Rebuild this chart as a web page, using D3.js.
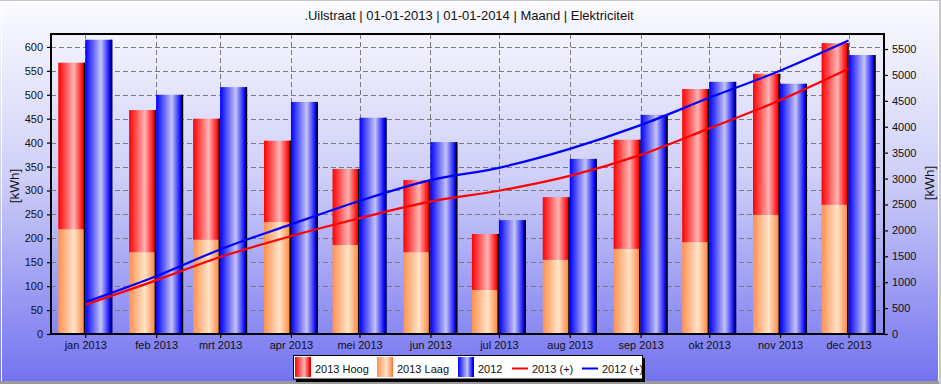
<!DOCTYPE html>
<html>
<head>
<meta charset="utf-8">
<script src="https://cdn.jsdelivr.net/npm/d3@7"></script>
<style>
  html, body { margin: 0; padding: 0; background: #fff; }
  svg { display: block; }
  text { font-family: "Liberation Sans", Arial, sans-serif; fill: #111; }
</style>
</head>
<body>
<svg id="chart" width="941" height="384"></svg>
<script>
// ---------- data ----------
const months = ["2013-01-01","2013-02-01","2013-03-01","2013-04-01","2013-05-01","2013-06-01",
                "2013-07-01","2013-08-01","2013-09-01","2013-10-01","2013-11-01","2013-12-01"];
const tickLabels = ["jan 2013","feb 2013","mrt 2013","apr 2013","mei 2013","jun 2013",
                    "jul 2013","aug 2013","sep 2013","okt 2013","nov 2013","dec 2013"];
const laag2013 = [219, 171, 197, 234, 186, 171, 92, 155, 178, 192, 249, 270];
const hoog2013 = [348, 297, 253, 170, 159, 151, 117, 131, 228, 320, 295, 338];
const total2012 = [615, 500, 516, 485, 452, 401, 238, 366, 458, 527, 523, 583];
const cum2013 = [567, 1035, 1485, 1889, 2234, 2556, 2765, 3051, 3457, 3969, 4513, 5121];
const cum2012 = [615, 1115, 1631, 2116, 2568, 2969, 3207, 3573, 4031, 4558, 5081, 5664];
const leftTicks = [0, 50, 100, 150, 200, 250, 300, 350, 400, 450, 500, 550, 600];
const rightTicks = [0, 500, 1000, 1500, 2000, 2500, 3000, 3500, 4000, 4500, 5000, 5500];
const legendLabels = ["2013 Hoog", "2013 Laag", "2012", "2013 (+)", "2012 (+)"];
const titleText = ".Uilstraat | 01-01-2013 | 01-01-2014 | Maand | Elektriciteit";

// ---------- setup ----------
const W = 941, H = 384;
const L = 51, R = 884, T = 34, B = 334;
const svg = d3.select("#chart");
const defs = svg.append("defs");

const bg = defs.append("linearGradient").attr("id", "bg").attr("x1", 0).attr("x2", 0).attr("y1", 0).attr("y2", 1);
bg.append("stop").attr("offset", "0%").attr("stop-color", "#fbfbff");
bg.append("stop").attr("offset", "45%").attr("stop-color", "#d0d0f8");
bg.append("stop").attr("offset", "100%").attr("stop-color", "#7272f0");

function barGrad(id, edge, light, dark) {
  const g = defs.append("linearGradient").attr("id", id).attr("x1", 0).attr("x2", 1).attr("y1", 0).attr("y2", 0);
  g.append("stop").attr("offset", "0%").attr("stop-color", edge);
  g.append("stop").attr("offset", "58%").attr("stop-color", light);
  g.append("stop").attr("offset", "92%").attr("stop-color", edge);
  g.append("stop").attr("offset", "100%").attr("stop-color", dark);
}
barGrad("gHoog", "#ff0000", "#ffb4b4", "#c00000");
barGrad("gLaag", "#ff9050", "#ffe4c8", "#e07030");
barGrad("gBlue", "#0000ff", "#c4c4f4", "#0000b0");

svg.append("rect").attr("width", W).attr("height", H).attr("fill", "url(#bg)");
// frame of the picture
svg.append("rect").attr("x", 0).attr("y", 381).attr("width", W).attr("height", 3).attr("fill", "#9a9a9a");
svg.append("line").attr("x1", 1.5).attr("x2", 1.5).attr("y1", 0).attr("y2", 381).attr("stroke", "#fff").attr("stroke-width", 1);
svg.append("line").attr("x1", 938.5).attr("x2", 938.5).attr("y1", 0).attr("y2", 381).attr("stroke", "#fff").attr("stroke-width", 1);
svg.append("rect").attr("x", 939).attr("y", 0).attr("width", 2).attr("height", H).attr("fill", "#c8c8c8");
svg.append("rect").attr("x", 0).attr("y", 0).attr("width", W).attr("height", 1).attr("fill", "#c8c8c8");

// ---------- scales ----------
const parse = d3.utcParse("%Y-%m-%d");
const dates = months.map(parse);
const x = d3.scaleUtc()
  .domain([new Date(Date.UTC(2012, 11, 17)), new Date(Date.UTC(2013, 11, 16, 12))])
  .range([L, R]);
const yL = d3.scaleLinear().domain([0, 627]).range([B, T]);
const yR = d3.scaleLinear().domain([0, 5790]).range([B, T]);

// ---------- grid ----------
const grid = svg.append("g").attr("stroke", "#7c7c7c").attr("stroke-dasharray", "5,3").attr("stroke-width", 1);
grid.selectAll("line.h").data(leftTicks.filter(d => d > 0)).join("line")
  .attr("x1", L).attr("x2", R)
  .attr("y1", d => Math.round(yL(d)) + 0.5).attr("y2", d => Math.round(yL(d)) + 0.5);
grid.selectAll("line.v").data(dates).join("line")
  .attr("y1", T).attr("y2", B)
  .attr("x1", d => Math.round(x(d)) + 0.5).attr("x2", d => Math.round(x(d)) + 0.5);

// ---------- bars ----------
const bw = 27;
const rows = dates.map((d, i) => ({ d, laag: laag2013[i], hoog: hoog2013[i], y12: total2012[i] }));
const bars = svg.append("g");
bars.selectAll("rect.laag").data(rows).join("rect")
  .attr("x", r => x(r.d) - bw).attr("width", bw)
  .attr("y", r => yL(r.laag)).attr("height", r => yL(0) - yL(r.laag))
  .attr("fill", "url(#gLaag)");
bars.selectAll("rect.hoog").data(rows).join("rect")
  .attr("x", r => x(r.d) - bw).attr("width", bw)
  .attr("y", r => yL(r.laag + r.hoog)).attr("height", r => yL(r.laag) - yL(r.laag + r.hoog))
  .attr("fill", "url(#gHoog)");
bars.selectAll("rect.e1").data(rows).join("rect")
  .attr("x", r => x(r.d) - 1.5).attr("width", 1.5)
  .attr("y", r => yL(r.laag + r.hoog)).attr("height", r => yL(0) - yL(r.laag + r.hoog))
  .attr("fill", "#000");
bars.selectAll("rect.b12").data(rows).join("rect")
  .attr("x", r => x(r.d)).attr("width", bw)
  .attr("y", r => yL(r.y12)).attr("height", r => yL(0) - yL(r.y12))
  .attr("fill", "url(#gBlue)");
bars.selectAll("rect.e2").data(rows).join("rect")
  .attr("x", r => x(r.d) + bw - 1.5).attr("width", 1.5)
  .attr("y", r => yL(r.y12)).attr("height", r => yL(0) - yL(r.y12))
  .attr("fill", "#000");

// ---------- cumulative lines ----------
const line = d3.line().x(p => x(p[0])).y(p => yR(p[1])).curve(d3.curveMonotoneX);
svg.append("path").datum(dates.map((d, i) => [d, cum2013[i]]))
  .attr("d", line).attr("fill", "none").attr("stroke", "#ff0000").attr("stroke-width", 2.2);
svg.append("path").datum(dates.map((d, i) => [d, cum2012[i]]))
  .attr("d", line).attr("fill", "none").attr("stroke", "#0000ff").attr("stroke-width", 2.2);

// ---------- axes ----------
const axL = svg.append("g").attr("transform", `translate(${L},0)`)
  .call(d3.axisLeft(yL).tickValues(leftTicks).tickFormat(d3.format("d")).tickSize(4).tickPadding(4));
const axR = svg.append("g").attr("transform", `translate(${R},0)`)
  .call(d3.axisRight(yR).tickValues(rightTicks).tickFormat(d3.format("d")).tickSize(4).tickPadding(4));
const axB = svg.append("g").attr("transform", `translate(0,${B})`)
  .call(d3.axisBottom(x).tickValues(dates).tickFormat((d, i) => tickLabels[i]).tickSize(4).tickPadding(3));
[axL, axR, axB].forEach(a => {
  a.select(".domain").remove();
  a.selectAll(".tick line").attr("stroke", "#000").attr("stroke-width", 1.2);
  a.selectAll(".tick text").attr("font-size", 11).attr("fill", "#1a1a1a")
    .attr("font-family", "'Liberation Sans', Arial, sans-serif");
});
// plot frame
svg.append("rect").attr("x", L).attr("y", T).attr("width", R - L).attr("height", B - T)
  .attr("fill", "none").attr("stroke", "#000").attr("stroke-width", 2);

// axis titles
svg.append("text").attr("transform", "translate(19,186) rotate(-90)")
  .attr("text-anchor", "middle").attr("font-size", 13.5).text("[kWh]");
svg.append("text").attr("transform", "translate(934,183) rotate(-90)")
  .attr("text-anchor", "middle").attr("font-size", 13.5).text("[kWh]");

// title
svg.append("text").attr("x", 469).attr("y", 20).attr("text-anchor", "middle")
  .attr("font-size", 13).text(titleText);

// ---------- legend ----------
const lg = svg.append("g");
lg.append("rect").attr("x", 296).attr("y", 358).attr("width", 349).attr("height", 24).attr("fill", "#000");
lg.append("rect").attr("x", 293.5).attr("y", 355.5).attr("width", 349).attr("height", 23.5)
  .attr("fill", "#fff").attr("stroke", "#000").attr("stroke-width", 1);
const items = [
  { type: "sw", fill: "url(#gHoog)", x: 295, tx: 315 },
  { type: "sw", fill: "url(#gLaag)", x: 377, tx: 397 },
  { type: "sw", fill: "url(#gBlue)", x: 458, tx: 478 },
  { type: "ln", color: "#ff0000", x: 512, tx: 532 },
  { type: "ln", color: "#0000ff", x: 582, tx: 602 }
];
items.forEach((it, i) => {
  if (it.type === "sw") {
    lg.append("rect").attr("x", it.x).attr("y", 357).attr("width", 16).attr("height", 20).attr("fill", it.fill);
  } else {
    lg.append("line").attr("x1", it.x).attr("x2", it.x + 16).attr("y1", 368.5).attr("y2", 368.5)
      .attr("stroke", it.color).attr("stroke-width", 2);
  }
  lg.append("text").attr("x", it.tx).attr("y", 372.5).attr("font-size", 11).text(legendLabels[i]);
});
</script>
</body>
</html>
